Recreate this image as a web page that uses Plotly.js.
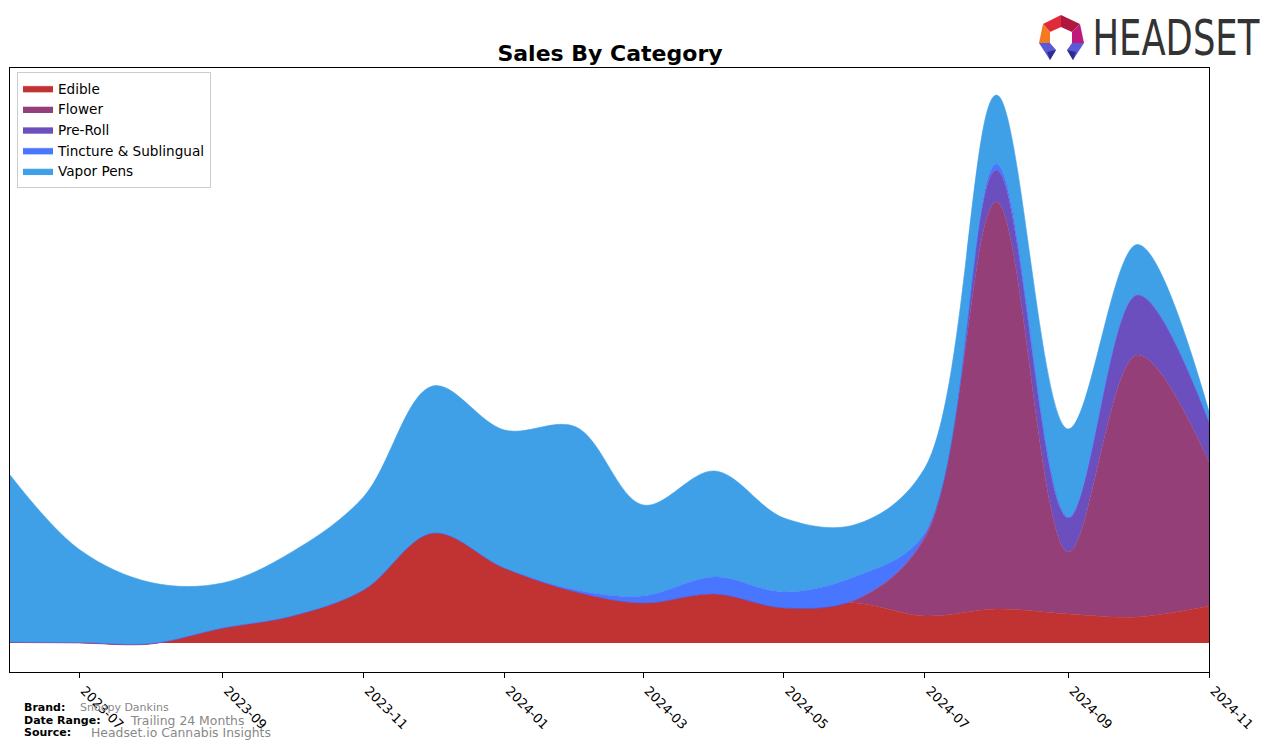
<!DOCTYPE html>
<html>
<head>
<meta charset="utf-8">
<script src="https://cdn.plot.ly/plotly-3.0.1.min.js"></script>
<style>
html,body{margin:0;padding:0;background:#fff;}
#chart{width:1276px;height:749px;}
</style>
</head>
<body>
<div id="chart"></div>
<script>
// ---- Data (relative sales units) ----
const months = ["2023-06-01","2023-07-01","2023-08-01","2023-09-01","2023-10-01","2023-11-01",
  "2023-12-01","2024-01-01","2024-02-01","2024-03-01","2024-04-01","2024-05-01",
  "2024-06-01","2024-07-01","2024-08-01","2024-09-01","2024-10-01","2024-11-01"];
const edible     = [0.5, 0, -1, 15, 27, 53, 110, 75, 51, 40, 49, 35, 40, 27, 34, 29, 26, 37];
const flower     = [0.5, 0.5, 0.5, 0, 0, 0, 0, 0, 0, 0, 0, 0, 3, 78, 407, 62, 262, 144];
const preRoll    = [0, 0, 0, 0, 0, 0, 0, 0, 0, 0, 0, 0, 0.5, 2, 32, 34, 60, 40];
const tincture   = [0, 0, 0, 0, 0, 0, 0, 0, 2, 7, 17, 16, 23, 3, 6, 1, 0.5, 0.5];
const vaporPens  = [167, 93, 61, 45, 64, 93, 147, 138, 163, 91, 106, 74, 52, 65, 69, 88, 50, 10];

const categories = ["Edible","Flower","Pre-Roll","Tincture & Sublingual","Vapor Pens"];
const seriesValues = [edible, flower, preRoll, tincture, vaporPens];
const colors = ["#c13333","#953f78","#6c4fbf","#4876fe","#3fa0e8"];
const xTickLabels = ["2023-07","2023-09","2023-11","2024-01","2024-03","2024-05","2024-07","2024-09","2024-11"];

// ---- Geometry helpers (pixel -> paper) ----
const W = 1276, H = 749;
const M = {l:10, r:67, t:68, b:77};
const PW = W - M.l - M.r, PH = H - M.t - M.b;
const px = x => (x - M.l) / PW;
const py = y => (H - M.b - y) / PH;

const traces = categories.map((name, i) => ({
  type: "scatter",
  mode: "lines",
  name: name,
  x: months,
  y: seriesValues[i],
  stackgroup: "one",
  line: {shape: "spline", smoothing: 1, width: 0.6, color: colors[i]},
  fillcolor: colors[i],
  hoverinfo: "skip"
}));

// Headset logo icon polygons (decoration)
function poly(pts, color){
  let d = pts.map((p,k)=> (k?"L":"M") + px(p[0]).toFixed(5) + "," + py(p[1]).toFixed(5)).join(" ") + " Z";
  return {type:"path", xref:"paper", yref:"paper", path:d, fillcolor:color, line:{width:0}, layer:"above"};
}
const shapes = [
  poly([[1043,24],[1061,15],[1061,27],[1050,32]], "#e02a3a"),
  poly([[1061,15],[1080,24],[1072,32],[1061,27]], "#b0173e"),
  poly([[1043,24],[1050,32],[1050,43],[1039,43]], "#f47a22"),
  poly([[1080,24],[1084,43],[1072,43],[1072,32]], "#c0187c"),
  poly([[1039,43],[1050,43],[1056,50],[1050,60]], "#5a5ad8"),
  poly([[1072,43],[1084,43],[1073,60],[1067,50]], "#5a5ad8"),
  poly([[1047,52],[1056,50],[1050,60]], "#2e2e8a"),
  poly([[1067,50],[1076,52],[1073,60]], "#2e2e8a")
];

const grayText = "#888888";
const annotations = [
  {text:"HEADSET", x:px(1176), y:py(38), xanchor:"center", yanchor:"middle", showarrow:false,
   xref:"paper", yref:"paper",
   font:{family:"DejaVu Sans", size:50, color:"#333333"}},
  {text:"<b>Brand:</b>", x:px(22), y:py(707), xanchor:"left", yanchor:"middle", showarrow:false, xref:"paper", yref:"paper",
   font:{family:"DejaVu Sans", size:11, color:"#000"}},
  {text:"Snoopy Dankins", x:px(78), y:py(707), xanchor:"left", yanchor:"middle", showarrow:false, xref:"paper", yref:"paper",
   font:{family:"DejaVu Sans", size:11, color:grayText}},
  {text:"<b>Date Range:</b>", x:px(22), y:py(720), xanchor:"left", yanchor:"middle", showarrow:false, xref:"paper", yref:"paper",
   font:{family:"DejaVu Sans", size:11, color:"#000"}},
  {text:"Trailing 24 Months", x:px(128), y:py(720), xanchor:"left", yanchor:"middle", showarrow:false, xref:"paper", yref:"paper",
   font:{family:"DejaVu Sans", size:12.4, color:grayText}},
  {text:"<b>Source:</b>", x:px(22), y:py(732), xanchor:"left", yanchor:"middle", showarrow:false, xref:"paper", yref:"paper",
   font:{family:"DejaVu Sans", size:11, color:"#000"}},
  {text:"Headset.io Cannabis Insights", x:px(89), y:py(732), xanchor:"left", yanchor:"middle", showarrow:false, xref:"paper", yref:"paper",
   font:{family:"DejaVu Sans", size:12.4, color:grayText}}
];

const tickVals = xTickLabels.map(t => t + "-01");

const layout = {
  width: W, height: H,
  margin: M,
  paper_bgcolor: "#ffffff",
  plot_bgcolor: "#ffffff",
  font: {family: "DejaVu Sans", size: 13, color: "#000"},
  title: {text: "<b>Sales By Category</b>", xref: "container", x: 610 / W, xanchor: "center",
          yref: "container", y: 1 - 53 / H, yanchor: "middle",
          font: {family: "DejaVu Sans", size: 22, color: "#000"}},
  showlegend: true,
  legend: {x: px(17), y: py(72), xanchor: "left", yanchor: "top", traceorder: "normal",
           bgcolor: "rgba(255,255,255,0.8)", bordercolor: "#cccccc", borderwidth: 1,
           font: {family: "DejaVu Sans", size: 13.6, color: "#000"}, tracegroupgap: 0},
  xaxis: {
    type: "date",
    range: ["2023-06-01", "2024-11-01"],
    tickvals: tickVals,
    ticktext: xTickLabels,
    tickangle: 45,
    ticklabelshift: 5,
    ticks: "outside", ticklen: 5, tickcolor: "#000", tickwidth: 1,
    showgrid: false, zeroline: false,
    showline: true, mirror: true, linecolor: "#000", linewidth: 1,
    tickfont: {family: "DejaVu Sans", size: 13, color: "#000"}
  },
  yaxis: {
    range: [-29, 575],
    showticklabels: false, ticks: "",
    showgrid: false, zeroline: false,
    showline: true, mirror: true, linecolor: "#000", linewidth: 1
  },
  shapes: shapes,
  annotations: annotations,
  hovermode: false
};

Plotly.newPlot("chart", traces, layout, {staticPlot: true, displayModeBar: false}).then(() => {
  // condense the logo word to the reference's width
  document.querySelectorAll("#chart .annotation-text").forEach(t => {
    if (t.textContent === "HEADSET") {
      t.setAttribute("textLength", "167");
      t.setAttribute("lengthAdjust", "spacingAndGlyphs");
    }
  });
});
</script>
</body>
</html>
